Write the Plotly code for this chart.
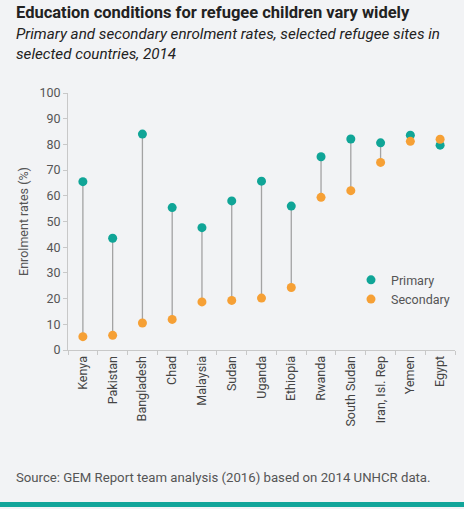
import plotly.graph_objects as go

countries = ["Kenya", "Pakistan", "Bangladesh", "Chad", "Malaysia", "Sudan", "Uganda",
             "Ethiopia", "Rwanda", "South Sudan", "Iran, Isl. Rep", "Yemen", "Egypt"]
primary = [65.5, 43.5, 84.0, 55.4, 47.6, 58.0, 65.7, 56.0, 75.2, 82.1, 80.6, 83.6, 79.7]
secondary = [5.2, 5.7, 10.5, 11.9, 18.7, 19.3, 20.2, 24.3, 59.4, 62.0, 73.0, 81.2, 82.0]
y_ticks = list(range(0, 101, 10))

TEAL = "#10a597"
ORANGE = "#f6a035"
BG = "#f2f3f5"
FONT = "Roboto"

line_x, line_y = [], []
for c, p, s in zip(countries, primary, secondary):
    line_x += [c, c, None]
    line_y += [p, s, None]

fig = go.Figure()
fig.add_trace(go.Scatter(x=line_x, y=line_y, mode="lines",
                         line=dict(color="#a3a3a3", width=1.3),
                         showlegend=False, hoverinfo="skip"))
fig.add_trace(go.Scatter(x=countries, y=primary, mode="markers", name="Primary",
                         marker=dict(color=TEAL, size=9)))
fig.add_trace(go.Scatter(x=countries, y=secondary, mode="markers", name="Secondary",
                         marker=dict(color=ORANGE, size=9)))

LEFT = -54 / 387

fig.update_layout(
    width=464, height=509,
    margin=dict(l=68, r=9, t=93, b=159),
    paper_bgcolor=BG, plot_bgcolor=BG,
    font=dict(family=FONT, size=12, color="#555555"),
    showlegend=True,
    legend=dict(x=1, y=0.33, xanchor="right", yanchor="top",
                bgcolor="rgba(0,0,0,0)", font=dict(size=12.5, color="#555555"),
                tracegroupgap=10, itemwidth=30),
    xaxis=dict(type="category", categoryorder="array", categoryarray=countries,
               range=[-0.5, 12.5], tickangle=-90, showgrid=False,
               showline=True, linecolor="#c8c8c8", linewidth=1,
               ticks="outside", tickson="boundaries", ticklen=4, tickcolor="#c8c8c8",
               tickfont=dict(size=12.5, color="#444444"), zeroline=False,
               automargin=False),
    yaxis=dict(range=[0, 100], tickvals=y_ticks, showgrid=False, zeroline=False,
               showline=True, linecolor="#c8c8c8", linewidth=1,
               ticks="outside", ticklen=4, tickcolor="#c8c8c8",
               tickfont=dict(size=12.5, color="#555555"), automargin=False,
               title=dict(text="Enrolment rates (%)", font=dict(size=12.5, color="#555555"),
                          standoff=8)),
)

fig.add_annotation(text="<b>Education conditions for refugee children vary widely</b>",
                   xref="paper", yref="paper", x=LEFT, y=1 + (93 - 12) / 257,
                   xanchor="left", yanchor="middle", showarrow=False,
                   font=dict(size=16.5, color="#222222", family=FONT))
fig.add_annotation(text="<i>Primary and secondary enrolment rates, selected refugee sites in<br>selected countries, 2014</i>",
                   xref="paper", yref="paper", x=LEFT, y=1 + (93 - 23) / 257,
                   xanchor="left", yanchor="top", showarrow=False, align="left",
                   font=dict(size=15.2, color="#222222", family=FONT))
fig.add_annotation(text="Source: GEM Report team analysis (2016) based on 2014 UNHCR data.",
                   xref="paper", yref="paper", x=LEFT, y=-(477 - 350) / 257,
                   xanchor="left", yanchor="middle", showarrow=False,
                   font=dict(size=13.2, color="#555555", family=FONT))
fig.add_shape(type="rect", xref="paper", yref="paper",
              x0=-68/387 - 0.02, x1=1 + 9/387 + 0.02,
              y0=-(507 - 350) / 257, y1=-(502 - 350) / 257,
              fillcolor="#12a59a", line=dict(width=0), layer="above")

fig.write_html("out.html")
